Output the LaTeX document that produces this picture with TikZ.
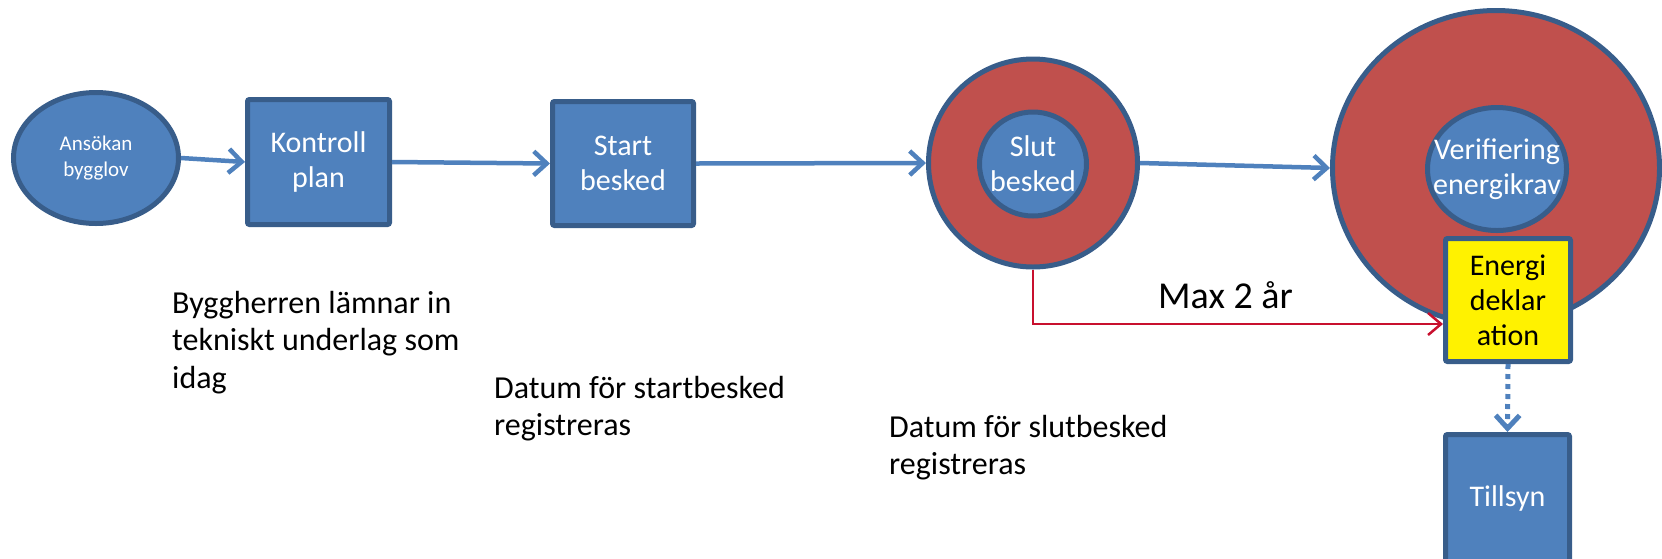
\documentclass[tikz,border=0pt]{standalone}
\usepackage{fontspec}
\setmainfont{Carlito}
\usetikzlibrary{arrows.meta,shapes.geometric}
\definecolor{boxblue}{RGB}{79,129,189}
\definecolor{edgeblue}{RGB}{56,93,138}
\definecolor{ringred}{RGB}{192,80,77}
\definecolor{linkred}{RGB}{200,16,46}
\tikzset{
  txtbox/.style={font=\fontsize{30}{35}\selectfont},
  txtnote/.style={font=\fontsize{32}{37.5}\selectfont},
  bluebox/.style={rectangle, draw=edgeblue, fill=boxblue, line width=5pt, rounded corners=2pt,
    text=white, align=center, inner sep=0pt, txtbox},
  blueoval/.style={ellipse, draw=edgeblue, fill=boxblue, line width=5pt,
    text=white, align=center, inner sep=0pt, txtbox},
  ring/.style={ellipse, draw=edgeblue, fill=ringred, line width=5pt, inner sep=0pt},
  flow/.style={draw=boxblue, line width=4.5pt, -{Straight Barb[length=13pt,width=24pt]}},
  redflow/.style={draw=linkred, line width=2.5pt, -{Straight Barb[length=13pt,width=22pt]}},
  dotflow/.style={draw=boxblue, line width=5pt, dash pattern=on 5pt off 5pt, -{Straight Barb[length=13pt,width=24pt]}},
  note/.style={anchor=north west, inner sep=0pt, align=left, txtnote, text=black},
}
\begin{document}
\begin{tikzpicture}[x=1pt,y=-1pt]
\useasboundingbox (0,0) rectangle (1662,558);
% shapes
\node[blueoval, minimum width=165pt, minimum height=131pt, font=\fontsize{21}{25.5}\selectfont] (ans) at (96,158) {Ansökan\\bygglov};
\node[bluebox, minimum width=142pt, minimum height=125pt] (kp) at (318.5,162) {Kontroll\\plan};
\node[bluebox, minimum width=141pt, minimum height=124pt] (sb) at (623,163.5) {Start\\besked};
\node[ring, minimum width=209pt, minimum height=208pt] (slutO) at (1033,163) {};
\node[blueoval, inner sep=-25pt, minimum width=107pt, minimum height=104pt] (slutI) at (1033,164) {Slut\\besked};
\node[ring, minimum width=327pt, minimum height=315pt] (verO) at (1496,168) {};
\node[blueoval, inner sep=-30pt, minimum width=139pt, minimum height=123pt] (verI) at (1497,169) {Verifiering\\energikrav};
\node[bluebox, fill=yellow, text=black, minimum width=125pt, minimum height=123pt] (ed) at (1508,300) {Energi\\deklar\\ation};
\node[bluebox, minimum width=124pt, minimum height=127pt] (till) at (1507.5,498) {Tillsyn};
% texts
\node[note] (t1) at (172,291) {Byggherren lämnar in\\tekniskt underlag som\\idag};
\node[note] (t2) at (494,376) {Datum för startbesked\\registreras};
\node[note] (t3) at (889,415) {Datum för slutbesked\\registreras};
\node[anchor=base west, inner sep=0pt, font=\fontsize{38}{45}\selectfont] (max) at (1158,308) {Max 2 år};
% connectors
\draw[flow] (ans.east) -- (kp.west);
\draw[flow] (kp.east) -- (sb.west);
\draw[flow] (sb.east) -- (slutO.west);
\draw[flow] (slutO.east) -- (verO.west);
\draw[redflow] (slutO.south) |- ([yshift=-24pt]ed.west);
\draw[dotflow] (ed.south) -- (till.north);
\end{tikzpicture}
\end{document}
